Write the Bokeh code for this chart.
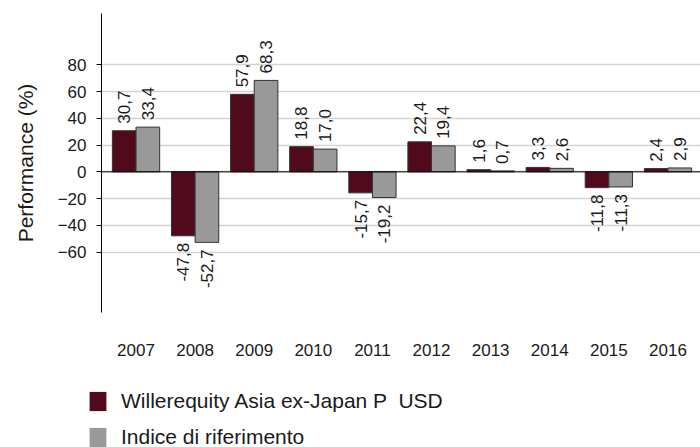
from bokeh.plotting import figure
from bokeh.models import (ColumnDataSource, Range1d, FixedTicker, Span, Legend,
                          LegendItem, LabelSet)
from bokeh.layouts import column, row
from bokeh.core.properties import value
from bokeh.embed import file_html
from bokeh.resources import INLINE

years = ["2007", "2008", "2009", "2010", "2011", "2012", "2013", "2014", "2015", "2016"]
fund = [30.7, -47.8, 57.9, 18.8, -15.7, 22.4, 1.6, 3.3, -11.8, 2.4]
index = [33.4, -52.7, 68.3, 17.0, -19.2, 19.4, 0.7, 2.6, -11.3, 2.9]
y_ticks = [-60, -40, -20, 0, 20, 40, 60, 80]
fund_name = "Willerequity Asia ex-Japan P  USD"
index_name = "Indice di riferimento"

FONT = "Liberation Sans"
DARK = "#500A1B"
GREY = "#999999"
TXT = "#1a1a1a"

xs = list(range(len(years)))

def make_src(vals, shift):
    return ColumnDataSource(dict(
        x=[i + shift for i in xs],
        v=vals,
        lab=[f"{v:.1f}".replace(".", ",") for v in vals],
        align=["left" if v >= 0 else "right" for v in vals],
        yoff=[7 if v >= 0 else -7 for v in vals],
    ))

src_f = make_src(fund, -0.2)
src_i = make_src(index, 0.2)

p = figure(width=700, height=383, output_backend="svg", toolbar_location=None,
           x_range=Range1d(-0.584, 9.551), y_range=Range1d(-105.1, 118.3),
           min_border_left=101, min_border_right=0, min_border_top=13,
           min_border_bottom=71)
p.outline_line_color = None
p.background_fill_color = "white"

r1 = p.vbar(x="x", top="v", bottom=0, width=0.4, source=src_f,
            fill_color=DARK, line_color="#333333", line_width=1)
r2 = p.vbar(x="x", top="v", bottom=0, width=0.4, source=src_i,
            fill_color=GREY, line_color="#333333", line_width=1)

p.add_layout(Span(location=0, dimension="width", line_color="black", line_width=1))

for src in (src_f, src_i):
    p.add_layout(LabelSet(x="x", y="v", text="lab", source=src, angle=1.5708,
                          text_align="align", text_baseline="middle",
                          y_offset="yoff", text_font=value(FONT),
                          text_font_size=value("17px"), text_color=TXT))

# y axis
ya = p.yaxis[0]
ya.ticker = FixedTicker(ticks=y_ticks)
ya.axis_line_color = "black"
ya.major_tick_line_color = "black"
ya.major_tick_out = 5
ya.major_tick_in = 0
ya.minor_tick_line_color = None
ya.major_label_standoff = 10
ya.major_label_text_font = FONT
ya.major_label_text_font_size = "17px"
ya.major_label_text_color = TXT
ya.axis_label = "Performance (%)"
ya.axis_label_text_font = FONT
ya.axis_label_text_font_size = "21px"
ya.axis_label_text_font_style = "normal"
ya.axis_label_text_color = TXT
ya.axis_label_standoff = 18

# x axis
xa = p.xaxis[0]
xa.ticker = FixedTicker(ticks=xs)
xa.major_label_overrides = {i: y for i, y in zip(xs, years)}
xa.axis_line_color = None
xa.major_tick_line_color = None
xa.minor_tick_line_color = None
xa.major_label_standoff = 25
xa.major_label_text_font = FONT
xa.major_label_text_font_size = "17px"
xa.major_label_text_color = TXT

p.xgrid.grid_line_color = None
p.ygrid.ticker = FixedTicker(ticks=y_ticks)
p.ygrid.grid_line_color = "#d4d4d4"
p.ygrid.grid_line_width = 1.3

# legend strip below the chart
q = figure(width=700, height=64, output_backend="svg", toolbar_location=None,
           x_range=Range1d(0, 1), y_range=Range1d(1000, 1001),
           min_border_left=0, min_border_right=0,
           min_border_top=0, min_border_bottom=0)
q.axis.visible = False
q.grid.visible = False
q.outline_line_color = None
l1 = q.vbar(x="x", top="v", bottom=0, width=0.4, source=src_f,
            fill_color=DARK, line_color=None)
l2 = q.vbar(x="x", top="v", bottom=0, width=0.4, source=src_i,
            fill_color=GREY, line_color=None)

legend = Legend(items=[LegendItem(label=fund_name, renderers=[l1]),
                       LegendItem(label=index_name, renderers=[l2])],
                location=(87, -2), orientation="vertical",
                glyph_width=21, glyph_height=24, label_height=24,
                spacing=12, padding=0, margin=0, label_standoff=13,
                label_text_font=FONT, label_text_font_size="21px",
                label_text_color=TXT, border_line_color=None,
                background_fill_alpha=0)
q.add_layout(legend)

layout = column(p, row(q, spacing=0), spacing=0)
open("out.html", "w").write(file_html(layout, INLINE))
